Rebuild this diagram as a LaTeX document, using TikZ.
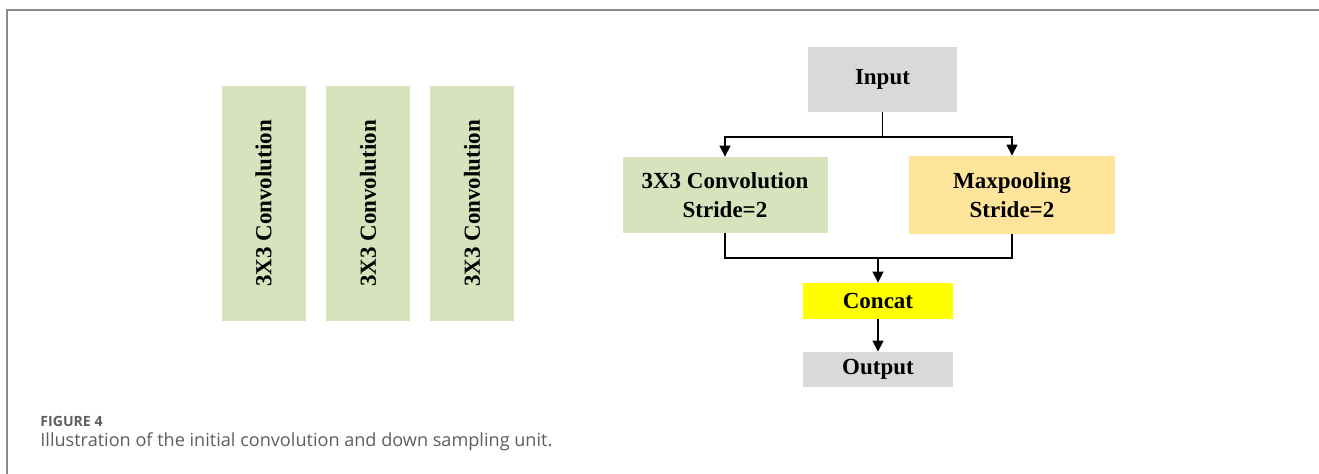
\documentclass[tikz,border=0pt]{standalone}
\usepackage{fontspec}
\setmainfont{Liberation Serif}
\newfontfamily\capfont{Open Sans}
\usetikzlibrary{arrows.meta}
\definecolor{convgreen}{HTML}{D7E3BD}
\definecolor{boxgray}{HTML}{D9D9D9}
\definecolor{poolorange}{HTML}{FFE59C}
\definecolor{concatyellow}{HTML}{FFFF00}
\definecolor{framegray}{HTML}{8A8A8A}
\definecolor{captext}{HTML}{5E5E5E}
\tikzset{
  blk/.style={inner sep=0pt, align=center, font=\fontsize{11.5}{14.5}\selectfont\bfseries},
  vblk/.style={blk, fill=convgreen, minimum width=42pt, minimum height=117.5pt},
  line/.style={line width=0.65pt, black},
  arr/.style={line, -{Triangle[width=5.5pt,length=5.5pt]}},
}
\begin{document}
\begin{tikzpicture}[x=0.5pt,y=-0.5pt]
\useasboundingbox (0,0) rectangle (1319,474);
\fill[white] (0,0) rectangle (1319,474);
\draw[framegray, line width=1pt] (6.5,474) -- (6.5,10.5) -- (1319,10.5);

% left: three vertical convolution blocks
\node[vblk] (c1) at (263.5,203.5) {\rotatebox{90}{3X3 Convolution}};
\node[vblk] (c2) at (368,203.5) {\rotatebox{90}{3X3 Convolution}};
\node[vblk] (c3) at (472,203.5) {\rotatebox{90}{3X3 Convolution}};

% right: down sampling unit
\node[blk, fill=boxgray, minimum width=74.5pt, minimum height=32.5pt] (input) at (882.5,79.3) {Input};
\node[blk, fill=convgreen, minimum width=102.5pt, minimum height=38pt] (conv) at (725,195) {3X3 Convolution\\Stride=2};
\node[blk, fill=poolorange, minimum width=103pt, minimum height=39pt] (maxp) at (1012,195) {Maxpooling\\Stride=2};
\node[blk, fill=concatyellow, minimum width=75pt, minimum height=18pt] (concat) at (878,301) {Concat};
\node[blk, fill=boxgray, minimum width=75pt, minimum height=17.5pt] (output) at (878,369.5) {Output};

\coordinate (split) at (input.south |- 0,137);
\coordinate (merge) at (concat.north |- 0,258);
\draw[line] (input.south) -- (split);
\draw[arr] (split) -| (conv.north);
\draw[arr] (split) -| (maxp.north);
\draw[line] (conv.south) |- (merge);
\draw[line] (maxp.south) |- (merge);
\draw[arr] (merge) -- (concat.north);
\draw[arr] (concat.south) -- (output.north);

% caption
\node[anchor=base west, inner sep=0pt, text=captext, font=\capfont\fontsize{7.05}{8.5}\selectfont\bfseries] (figlabel) at (40,426.7) {FIGURE 4};
\node[anchor=base west, inner sep=0pt, text=captext, font=\capfont\fontsize{9.05}{11}\selectfont] (caption) at (40,447) {Illustration of the initial convolution and down sampling unit.};
\end{tikzpicture}
\end{document}
